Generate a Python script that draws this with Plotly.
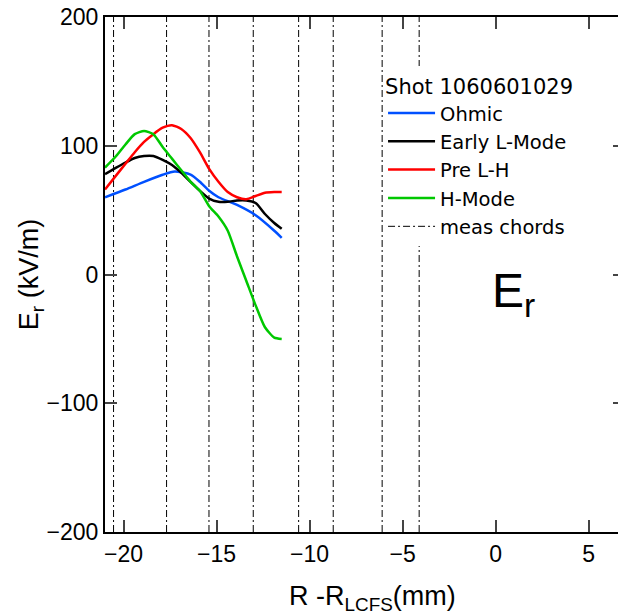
import plotly.graph_objects as go

# ---- data ----
ohmic_x = [-21.0, -19.9, -18.9, -17.9, -17.25, -16.4, -15.9, -15.4, -14.9, -13.9, -12.9, -11.9, -11.5]
ohmic_y = [60, 66, 72, 77.5, 80, 77.6, 72, 65, 60, 54, 46, 34, 28.5]

grid_x = [-21.0, -20.4, -19.9, -19.4, -18.9, -18.4, -17.9, -17.4, -16.9, -16.4,
          -15.9, -15.4, -14.9, -14.4, -13.9, -13.4, -12.9, -12.4, -11.9, -11.5]
early_l_y = [78, 83, 87, 90.5, 92, 92, 89, 85, 79, 72, 65, 59, 56.5, 56.5, 57.5, 57.5, 55.5, 47, 40, 35.5]
pre_lh_y = [66, 77, 86, 95, 103, 109, 114, 116, 113, 106, 95, 82, 72, 64, 60, 58.5, 61, 63.5, 64, 64]
h_mode_y = [83, 92, 101, 109, 111.5, 109, 99, 90, 81, 72, 65, 53, 45, 34, 14, -5, -24, -41, -49, -50]

chord_x = [-20.54, -17.69, -15.41, -13.03, -10.59, -8.73, -6.10, -4.11]
y_range = [-200, 200]

x_ticks = [-20, -15, -10, -5, 0, 5]
y_ticks = [-200, -100, 0, 100, 200]

FONT = "Liberation Sans, Arial, sans-serif"
LFONT = "DejaVu Sans, sans-serif"

fig = go.Figure()

# measurement chords (dash-dot vertical lines)
cx, cy = [], []
for c in chord_x:
    cx += [c, c, None]
    cy += [y_range[0], y_range[1], None]
fig.add_trace(go.Scatter(x=cx, y=cy, mode="lines", name="meas chords",
                         line=dict(color="black", width=1, dash="7px,3px,2px,3px"),
                         hoverinfo="skip", legendrank=1005))

series = [
    ("Ohmic", ohmic_x, ohmic_y, "#0050ff"),
    ("Early L-Mode", grid_x, early_l_y, "black"),
    ("Pre L-H", grid_x, pre_lh_y, "#ff0000"),
    ("H-Mode", grid_x, h_mode_y, "#00c800"),
]
for i, (name, xs, ys, col) in enumerate(series):
    fig.add_trace(go.Scatter(x=xs, y=ys, mode="lines", name=name, legendrank=1000 + i,
                             line=dict(color=col, width=2.5, shape="spline", smoothing=0.6)))

# dummy trace to activate right tick axis
fig.add_trace(go.Scatter(x=[0], y=[0], yaxis="y2", mode="markers",
                         marker=dict(opacity=0), showlegend=False, hoverinfo="skip"))

fig.add_annotation(text="E<sub>r</sub>", x=-0.3, y=-15, xref="x", yref="y",
                   xanchor="left", yanchor="middle", showarrow=False,
                   font=dict(family=FONT, size=48, color="black"))

fig.add_annotation(text="R -R<sub>LCFS</sub>(mm)", x=0.522, y=-0.128,
                   xref="paper", yref="paper", xanchor="center", yanchor="middle",
                   showarrow=False, font=dict(family=FONT, size=27, color="black"))

fig.update_layout(
    width=618, height=614,
    margin=dict(l=105, r=0, t=17, b=82),
    paper_bgcolor="white", plot_bgcolor="white",
    font=dict(family=FONT, size=23, color="black"),
    showlegend=True,
    legend=dict(x=0.542, y=0.904, xanchor="left", yanchor="top",
                bgcolor="white", borderwidth=0,
                font=dict(family=LFONT, size=19.5),
                title=dict(text="Shot 1060601029", font=dict(family=LFONT, size=21)),
                tracegroupgap=0, itemwidth=47),
    xaxis=dict(range=[-21, 6.58], tickvals=x_ticks, ticks="inside", ticklen=12,
               tickwidth=2, showline=True, linewidth=2, linecolor="black",
               mirror="ticks", showgrid=False, zeroline=False,
               tickfont=dict(size=23)),
    yaxis=dict(range=y_range, tickvals=y_ticks, ticks="inside", ticklen=12,
               tickwidth=2, showline=True, linewidth=2, linecolor="black",
               showgrid=False, zeroline=False, tickfont=dict(size=23),
               title=dict(text="E<sub>r</sub> (kV/m)", font=dict(size=27), standoff=0)),
    yaxis2=dict(range=y_range, tickvals=y_ticks, overlaying="y", side="right",
                anchor="free", position=1, ticks="inside", ticklen=5, tickwidth=2,
                showticklabels=False, showline=False, showgrid=False, zeroline=False),
)

fig.write_html("out.html")
